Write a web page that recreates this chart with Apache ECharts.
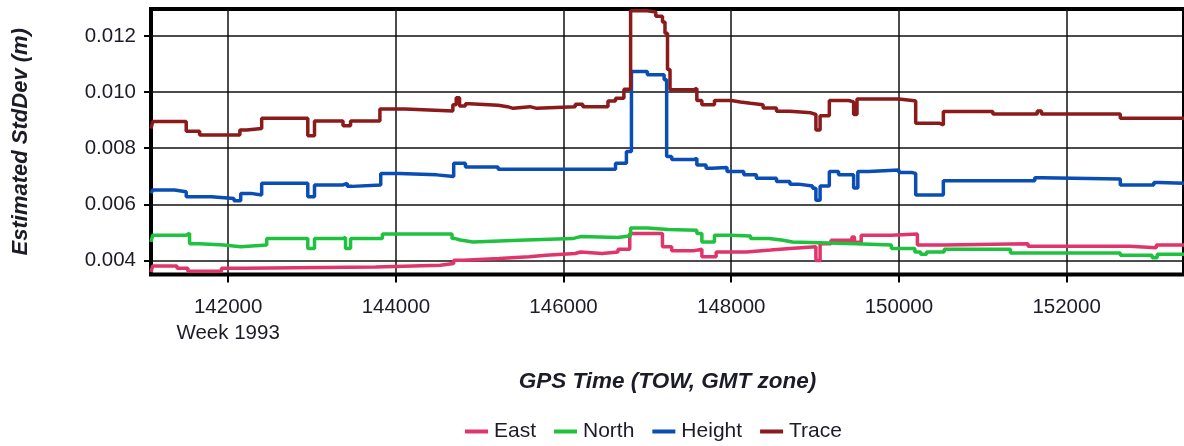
<!DOCTYPE html>
<html>
<head>
<meta charset="utf-8">
<style>
  html, body { margin: 0; padding: 0; background: #fff; }
  #chart { width: 1184px; height: 446px; }
</style>
<script src="https://cdn.jsdelivr.net/npm/echarts@6/dist/echarts.min.js"></script>
</head>
<body>
<div id="chart"></div>
<script>
// Estimated position standard deviations over GPS time of week (week 1993).
// Each series is a list of [time of week (s), std dev (m)] change points;
// the value holds until the next change point.
const seriesNames = ['East', 'North', 'Height', 'Trace'];
const seriesColors = ['#e0356b', '#1ec23e', '#0a4db5', '#8b1a1a'];

const eastSteps = [
  [141080, 0.00359], [141100, 0.00380], [141390, 0.00372], [141520, 0.00362],
  [141920, 0.00372], [142190, 0.00377], [143760, 0.00383], [144530, 0.00389],
  [144690, 0.00401], [144810, 0.00407], [145230, 0.00413], [145590, 0.00419],
  [145790, 0.00425], [146140, 0.00430], [146200, 0.00425], [146460, 0.00430],
  [146650, 0.00440], [146790, 0.00496], [147180, 0.00449], [147290, 0.00435],
  [147560, 0.00440], [147650, 0.00413], [147820, 0.00430], [148180, 0.00437],
  [148470, 0.00443], [148700, 0.00449], [149010, 0.00400], [149060, 0.00460],
  [149190, 0.00472], [149440, 0.00484], [149470, 0.00465], [149550, 0.00490],
  [149910, 0.00494], [150220, 0.00455], [150540, 0.00460], [151540, 0.00451],
  [152750, 0.00445], [153070, 0.00455], [153400, 0.00455]
];

const northSteps = [
  [141080, 0.00466], [141100, 0.00490], [141500, 0.00497], [141540, 0.00460],
  [141660, 0.00455], [141950, 0.00449], [142150, 0.00455], [142460, 0.00478],
  [142950, 0.00443], [143030, 0.00478], [143370, 0.00482], [143400, 0.00443],
  [143460, 0.00478], [143840, 0.00494], [144670, 0.00478], [144710, 0.00473],
  [144770, 0.00466], [144920, 0.00472], [145470, 0.00478], [146110, 0.00485],
  [146200, 0.00482], [146650, 0.00488], [146800, 0.00516], [147000, 0.00510],
  [147250, 0.00508], [147590, 0.00496], [147650, 0.00466], [147800, 0.00490],
  [148000, 0.00487], [148230, 0.00478], [148450, 0.00472], [148620, 0.00466],
  [148730, 0.00460], [149490, 0.00455], [149910, 0.00443], [150190, 0.00430],
  [150260, 0.00422], [150330, 0.00430], [150540, 0.00440], [151330, 0.00427],
  [152640, 0.00419], [153020, 0.00410], [153080, 0.00422], [153400, 0.00422]
];

const heightSteps = [
  [141080, 0.00639], [141100, 0.00651], [141360, 0.00645], [141500, 0.00627],
  [141800, 0.00621], [142070, 0.00613], [142150, 0.00639], [142270, 0.00633],
  [142400, 0.00675], [142950, 0.00627], [143030, 0.00669], [143370, 0.00675],
  [143420, 0.00664], [143480, 0.00669], [143820, 0.00710], [144040, 0.00705],
  [144490, 0.00699], [144690, 0.00746], [144830, 0.00733], [145220, 0.00725],
  [146620, 0.00746], [146750, 0.00788], [146810, 0.01073], [147000, 0.01062],
  [147200, 0.01044], [147230, 0.00770], [147290, 0.00760], [147560, 0.00764],
  [147590, 0.00740], [147700, 0.00729], [147770, 0.00731], [147950, 0.00717],
  [148150, 0.00705], [148300, 0.00693], [148540, 0.00681], [148700, 0.00672],
  [148800, 0.00665], [148970, 0.00657], [149010, 0.00615], [149060, 0.00665],
  [149170, 0.00717], [149280, 0.00705], [149460, 0.00658], [149510, 0.00717],
  [149640, 0.00722], [150000, 0.00713], [150160, 0.00710], [150200, 0.00633],
  [150530, 0.00684], [151620, 0.00695], [151700, 0.00690], [152640, 0.00669],
  [153040, 0.00678], [153100, 0.00675], [153400, 0.00675]
];

const traceSteps = [
  [141080, 0.00870], [141100, 0.00895], [141500, 0.00860], [141660, 0.00847],
  [142140, 0.00865], [142220, 0.00870], [142400, 0.00907], [142950, 0.00844],
  [143030, 0.00897], [143370, 0.00880], [143460, 0.00897], [143810, 0.00940],
  [144110, 0.00933], [144680, 0.00955], [144720, 0.00980], [144760, 0.00950],
  [144830, 0.00958], [144880, 0.00953], [145220, 0.00948], [145330, 0.00942],
  [145400, 0.00948], [145600, 0.00942], [145680, 0.00948], [146140, 0.00957],
  [146230, 0.00948], [146530, 0.00968], [146620, 0.00978], [146720, 0.01010],
  [146800, 0.01290], [147000, 0.01285], [147100, 0.01270], [147180, 0.01250],
  [147210, 0.01210], [147240, 0.01080], [147270, 0.01008], [147550, 0.01013],
  [147590, 0.00970], [147650, 0.00955], [147800, 0.00970], [148000, 0.00965],
  [148110, 0.00960], [148230, 0.00955], [148380, 0.00943], [148540, 0.00932],
  [148700, 0.00926], [148950, 0.00920], [149010, 0.00865], [149060, 0.00916],
  [149170, 0.00970], [149400, 0.00965], [149460, 0.00920], [149500, 0.00975],
  [150000, 0.00970], [150160, 0.00968], [150200, 0.00889], [150480, 0.00883],
  [150530, 0.00931], [151120, 0.00922], [151650, 0.00933], [151700, 0.00922],
  [152640, 0.00907], [153400, 0.00907]
];

const xTicks = [142000, 144000, 146000, 148000, 150000, 152000];
const yTicks = [0.004, 0.006, 0.008, 0.010, 0.012];
const weekLabel = 'Week 1993';

const FONT = "'Liberation Sans', Arial, sans-serif";
const TEXT = '#1c1c28';

const allSteps = [eastSteps, northSteps, heightSteps, traceSteps];

const chart = echarts.init(document.getElementById('chart'), null, { renderer: 'canvas' });

chart.setOption({
  animation: false,
  grid: {
    left: 151, top: 9, bottom: 171.5, right: -11,
    show: true, borderColor: '#000', borderWidth: 4, backgroundColor: 'transparent'
  },
  xAxis: {
    type: 'value',
    min: 141080, max: 153400,
    name: 'GPS Time (TOW, GMT zone)',
    nameLocation: 'middle',
    nameGap: 96,
    nameTextStyle: { fontFamily: FONT, fontSize: 22.5, fontWeight: 'bold', fontStyle: 'italic', color: TEXT },
    axisLine: { show: false },
    axisTick: { show: true, customValues: xTicks, length: 8, lineStyle: { color: '#000', width: 2 } },
    axisLabel: {
      customValues: xTicks,
      margin: 19.5,
      fontFamily: FONT, fontSize: 20.5, color: TEXT, lineHeight: 26,
      formatter: v => (v === xTicks[0] ? v + '\n' + weekLabel : String(v))
    },
    splitLine: { show: true, lineStyle: { color: '#111', width: 1.5 } }
  },
  yAxis: {
    type: 'value',
    min: 0.0035, max: 0.01296,
    name: 'Estimated StdDev (m)',
    nameLocation: 'middle',
    nameGap: 119,
    nameRotate: 90,
    nameTextStyle: { fontFamily: FONT, fontSize: 22, fontWeight: 'bold', fontStyle: 'italic', color: TEXT },
    axisLine: { show: false },
    axisTick: { show: true, customValues: yTicks, length: 7, lineStyle: { color: '#000', width: 2 } },
    axisLabel: {
      customValues: yTicks,
      margin: 15,
      fontFamily: FONT, fontSize: 20.5, color: TEXT,
      formatter: v => v.toFixed(3)
    },
    splitLine: { show: true, lineStyle: { color: '#111', width: 1.5 } }
  },
  legend: {
    left: 460, top: 416,
    icon: 'rect', itemWidth: 23, itemHeight: 4, itemGap: 18,
    textStyle: { fontFamily: FONT, fontSize: 21, color: TEXT, padding: [0, 0, 0, 1] },
    data: seriesNames
  },
  series: seriesNames.map((name, i) => ({
    name,
    type: 'line',
    step: 'end',
    showSymbol: false,
    color: seriesColors[i],
    lineStyle: { width: 3.5, color: seriesColors[i] },
    data: allSteps[i]
  }))
});
</script>
</body>
</html>
